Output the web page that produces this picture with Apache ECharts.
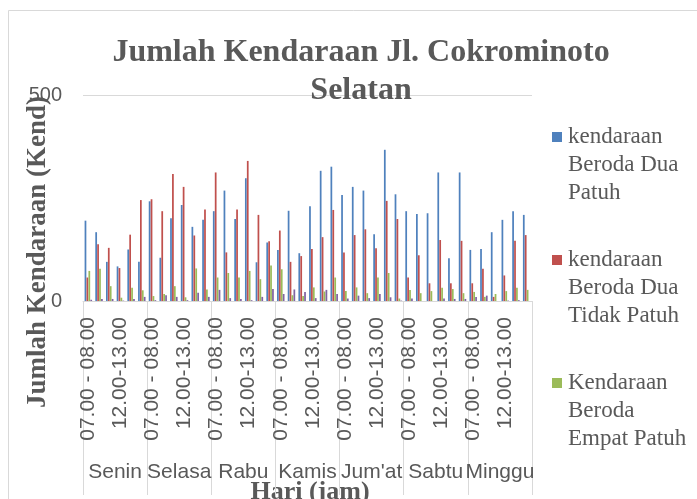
<!DOCTYPE html>
<html>
<head>
<meta charset="utf-8">
<script src="https://cdn.jsdelivr.net/npm/echarts@6/dist/echarts.min.js"></script>
<style>html,body{margin:0;padding:0;background:#fff;}#c{width:697px;height:499px;}</style>
</head>
<body>
<div id="c"></div>
<script>
const days = ['Senin', 'Selasa', 'Rabu', 'Kamis', "Jum'at", 'Sabtu', 'Minggu'];
const slots = ['07.00 - 08.00', '08.00 - 09.00', '11.00-12.00', '12.00-13.00', '16.00-17.00', '17.00-18.00'];
const yTicks = [0, 500];

const seriesNames = [
  'kendaraan Beroda Dua Patuh',
  'kendaraan Beroda Dua Tidak Patuh',
  'Kendaraan Beroda Empat Patuh',
  'Kendaraan Beroda Empat Tidak Patuh'
];
const legendLines = [
  ['kendaraan', 'Beroda Dua', 'Patuh'],
  ['kendaraan', 'Beroda Dua', 'Tidak Patuh'],
  ['Kendaraan', 'Beroda', 'Empat Patuh']
];

const duaPatuh = [195, 167, 95, 84, 125, 95,
  242, 105, 201, 233, 180, 197,
  218, 268, 199, 298, 94, 142,
  124, 219, 116, 230, 316, 326,
  257, 277, 268, 162, 367, 259,
  218, 211, 213, 312, 104, 312,
  124, 126, 167, 197, 218, 209];
const duaTidakPatuh = [57, 138, 129, 80, 161, 245,
  247, 218, 308, 277, 159, 222,
  312, 118, 222, 340, 209, 145,
  171, 95, 109, 126, 155, 221,
  118, 160, 174, 128, 243, 199,
  57, 111, 43, 148, 43, 146,
  43, 78, 10, 62, 146, 160];
const empatPatuh = [73, 78, 36, 8, 32, 26,
  12, 17, 36, 9, 79, 28,
  57, 68, 57, 73, 53, 86,
  77, 14, 12, 33, 23, 57,
  24, 33, 19, 57, 68, 6,
  27, 19, 24, 32, 29, 19,
  22, 10, 17, 24, 32, 27];
const empatTidakPatuh = [3, 5, 5, 1, 5, 10,
  2, 14, 10, 2, 20, 10,
  27, 7, 5, 2, 10, 29,
  17, 28, 22, 7, 27, 17,
  6, 13, 7, 17, 9, 1,
  6, 0, 0, 6, 5, 5,
  10, 13, 0, 1, 2, 0];

const colors = ['#4F81BD', '#C0504D', '#9BBB59', '#8064A2'];
const seriesData = [duaPatuh, duaTidakPatuh, empatPatuh, empatTidakPatuh];

const categories = [];
days.forEach(d => slots.forEach(s => categories.push(s)));

const gray = '#595959';
const lineGray = '#d9d9d9';
const serif = "'Liberation Serif', 'Times New Roman', serif";
const sans = "'Liberation Sans', Arial, sans-serif";

const rich = {
  p: { width: 10, height: 10, lineHeight: 28 },
  t: { fontFamily: serif, fontSize: 23, color: gray, lineHeight: 28, padding: [0, 0, 0, 6] }
};
for (let i = 0; i < 3; i++) {
  rich['s' + i] = { width: 10, height: 10, backgroundColor: colors[i], lineHeight: 28 };
}

const chart = echarts.init(document.getElementById('c'), null, { renderer: 'canvas' });
chart.setOption({
  animation: false,
  backgroundColor: '#fff',
  color: colors,
  title: {
    text: 'Jumlah Kendaraan Jl. Cokrominoto\nSelatan',
    left: 356,
    top: 29,
    textAlign: 'center',
    textStyle: { fontFamily: serif, fontWeight: 'bold', fontSize: 32, color: gray, lineHeight: 38 }
  },
  legend: {
    data: seriesNames.slice(0, 3),
    orient: 'vertical',
    left: 542,
    top: 118,
    itemGap: 39,
    itemWidth: 0,
    itemHeight: 0,
    icon: 'rect',
    selectedMode: false,
    formatter: function (name) {
      const i = seriesNames.indexOf(name);
      return legendLines[i].map((l, j) => (j === 0 ? '{s' + i + '|}' : '{p|}') + '{t|' + l + '}').join('\n');
    },
    textStyle: { rich: rich, lineHeight: 28 }
  },
  grid: { left: 83, right: 165, top: 95, bottom: 198, containLabel: false },
  xAxis: [
    {
      type: 'category',
      data: categories,
      position: 'bottom',
      axisLine: { show: true, lineStyle: { color: lineGray, width: 1 } },
      axisTick: { show: false },
      axisLabel: {
        interval: 2,
        rotate: 90,
        margin: 16,
        fontFamily: sans,
        fontSize: 21,
        color: gray
      }
    },
    {
      type: 'category',
      data: days,
      position: 'bottom',
      axisLine: { show: false },
      axisTick: { show: true, inside: false, length: 194, interval: 0, lineStyle: { color: lineGray, width: 1 } },
      axisLabel: { interval: 0, margin: 161, fontFamily: sans, fontSize: 21, color: gray }
    }
  ],
  yAxis: {
    type: 'value',
    min: yTicks[0],
    max: yTicks[1],
    interval: 500,
    axisLine: { show: false },
    axisTick: { show: false },
    splitLine: { show: true, lineStyle: { color: lineGray, width: 1 } },
    axisLabel: { margin: 21, fontFamily: sans, fontSize: 20, color: gray }
  },
  series: seriesNames.map((n, i) => ({
    name: n,
    type: 'bar',
    xAxisIndex: 0,
    data: seriesData[i],
    barGap: '10%',
    barCategoryGap: '30%',
    itemStyle: { color: colors[i] }
  })),
  graphic: [
    {
      type: 'rect',
      shape: { x: 8.5, y: 10.5, width: 720, height: 520 },
      style: { fill: 'none', stroke: lineGray, lineWidth: 1 },
      silent: true,
      z: -1
    },
    {
      type: 'text',
      x: 38,
      y: 252,
      rotation: Math.PI / 2,
      style: {
        text: 'Jumlah Kendaraan (Kend)',
        fontFamily: serif,
        fontWeight: 'bold',
        fontSize: 27,
        fill: gray,
        align: 'center',
        verticalAlign: 'middle'
      }
    },
    {
      type: 'text',
      x: 310,
      y: 492,
      style: {
        text: 'Hari (jam)',
        fontFamily: serif,
        fontWeight: 'bold',
        fontSize: 26,
        fill: gray,
        align: 'center',
        verticalAlign: 'middle'
      }
    }
  ]
});
</script>
</body>
</html>
